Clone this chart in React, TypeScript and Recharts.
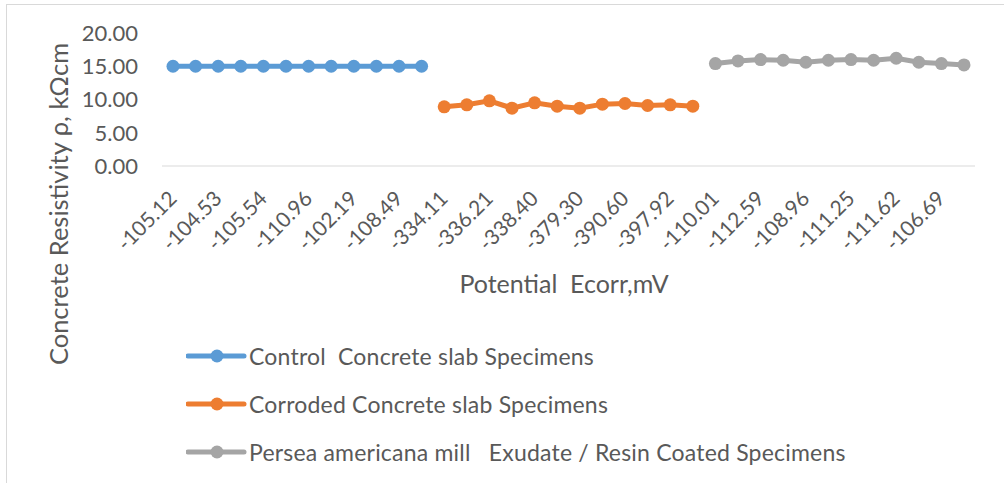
import { Legend, Line, LineChart, XAxis, YAxis } from "recharts";

const tickLabels = [
  "-105.12", "-104.53", "-105.54", "-110.96", "-102.19", "-108.49",
  "-334.11", "-336.21", "-338.40", "-379.30", "-390.60", "-397.92",
  "-110.01", "-112.59", "-108.96", "-111.25", "-111.62", "-106.69"
];

const control = [15.0, 15.0, 15.0, 15.0, 15.0, 15.0, 15.0, 15.0, 15.0, 15.0, 15.0, 15.0];
const corroded = [8.9, 9.2, 9.8, 8.7, 9.5, 9.0, 8.7, 9.3, 9.4, 9.1, 9.2, 9.0];
const coated = [15.4, 15.8, 16.0, 15.9, 15.6, 15.9, 16.0, 15.9, 16.2, 15.6, 15.4, 15.2];

const yTicks = [0, 5, 10, 15, 20];

const series = [
  { key: "control", name: "Control  Concrete slab Specimens", color: "#5b9bd5" },
  { key: "corroded", name: "Corroded Concrete slab Specimens", color: "#ed7d31" },
  { key: "coated", name: "Persea americana mill   Exudate / Resin Coated Specimens", color: "#a5a5a5" }
];

const n = control.length;
const data = [...control, ...corroded, ...coated].map((_, i) => ({
  idx: i,
  control: i < n ? control[i] : null,
  corroded: i >= n && i < 2 * n ? corroded[i - n] : null,
  coated: i >= 2 * n ? coated[i - 2 * n] : null
}));

const FONT = "Lato, 'Open Sans', sans-serif";
const TEXT = "#595959";

function XTick({ x, y, payload }: any) {
  const i = payload.value as number;
  if (i % 2 !== 0) return null;
  return (
    <g transform={`translate(${x + 5},${y + 34})`}>
      <text transform="rotate(-45)" textAnchor="end" fill={TEXT} fontSize={21} fontFamily={FONT}>
        {tickLabels[i / 2]}
      </text>
    </g>
  );
}

function LegendBox() {
  return (
    <div style={{ fontFamily: FONT, fontSize: 23, color: TEXT, whiteSpace: "pre", letterSpacing: 0.2 }}>
      {series.map((s) => (
        <div key={s.key} style={{ display: "flex", alignItems: "center", height: 48 }}>
          <svg width={62} height={16} style={{ marginRight: 1 }}>
            <line x1={2} y1={8} x2={58} y2={8} stroke={s.color} strokeWidth={5} strokeLinecap="round" />
            <circle cx={31} cy={8} r={6.5} fill={s.color} />
          </svg>
          <span>{s.name}</span>
        </div>
      ))}
    </div>
  );
}

export default function App() {
  return (
    <div style={{ position: "absolute", left: 0, top: 0, width: 1004, height: 483, overflow: "hidden", background: "#fff" }}>
      <div style={{ position: "absolute", left: 6, top: 4, width: 1010, height: 490, border: "1px solid #d9d9d9" }} />
      <LineChart width={1004} height={483} data={data} margin={{ top: 33, right: 29, bottom: 0, left: 0 }} style={{ position: "absolute", left: 0, top: 0 }}>
        <XAxis
          dataKey="idx"
          type="category"
          interval={0}
          height={317}
          padding={{ left: 11, right: 11 }}
          tickLine={false}
          tickSize={0}
          tickMargin={0}
          stroke="#d9d9d9"
          tick={<XTick />}
          label={{
            content: () => (
              <text x={564} y={293} textAnchor="middle" fill={TEXT} fontSize={25} fontFamily={FONT} style={{ whiteSpace: "pre" }}>
                Potential  Ecorr,mV
              </text>
            )
          }}
        />
        <YAxis
          width={162}
          domain={[0, 20]}
          ticks={yTicks}
          axisLine={false}
          tickLine={false}
          tickSize={0}
          tickMargin={24}
          tickFormatter={(v: number) => v.toFixed(2)}
          tick={{ fill: TEXT, fontSize: 22, fontFamily: FONT }}
          label={{
            content: () => (
              <text x={58} y={204} transform="rotate(-90 58 204)" textAnchor="middle" dominantBaseline="central" fill={TEXT} fontSize={25.5} fontFamily={FONT}>
                Concrete Resistivity ρ, kΩcm
              </text>
            )
          }}
        />
        <Legend
          layout="vertical"
          align="center"
          verticalAlign="middle"
          content={<LegendBox />}
          wrapperStyle={{ left: 186, top: 332, width: 760 }}
        />
        {series.map((s) => (
          <Line
            key={s.key}
            type="linear"
            dataKey={s.key}
            name={s.name}
            stroke={s.color}
            strokeWidth={5}
            dot={{ r: 6.5, fill: s.color, stroke: s.color, strokeWidth: 0 }}
            activeDot={false}
            connectNulls={false}
            isAnimationActive={false}
          />
        ))}
      </LineChart>
    </div>
  );
}
